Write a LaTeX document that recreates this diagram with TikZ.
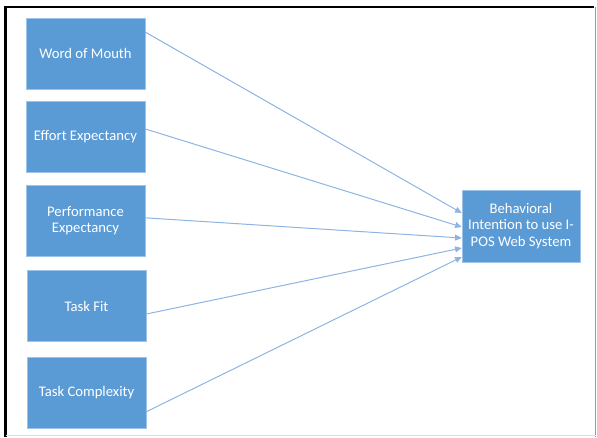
\documentclass[tikz,border=0pt]{standalone}
\usepackage{fontspec}
\setmainfont{Carlito}
\usetikzlibrary{arrows.meta}
\definecolor{boxblue}{HTML}{5B9BD5}
\definecolor{edgeblue}{HTML}{9DC3E6}
\definecolor{lineblue}{HTML}{8DB4E2}
\tikzset{
  srcbox/.style={rectangle, fill=boxblue, draw=edgeblue, line width=0.4pt, text=white,
    minimum width=89.5pt, minimum height=53.25pt, align=center, inner sep=2pt,
    font=\fontsize{11}{12.5}\selectfont},
  tgtbox/.style={srcbox, minimum width=88.5pt, minimum height=54pt},
  link/.style={draw=lineblue, line width=0.75pt, -{Triangle[length=5pt,width=4.5pt]}}
}
\begin{document}
\begin{tikzpicture}[x=0.75pt,y=-0.75pt]
\useasboundingbox (0,0) rectangle (597,437);
% frame
\draw[line width=2.2pt, black] (5.5,437) -- (5.5,7) -- (594,7);
\draw[line width=1.2pt, gray!80] (595.5,7) -- (595.5,437);
\draw[line width=0.8pt, gray!25] (5.5,435.5) -- (595.5,435.5);
% nodes
\node[srcbox] (wom) at (85.5,53.5) {Word of Mouth};
\node[srcbox] (ee) at (85.5,137) {Effort Expectancy};
\node[srcbox] (pe) at (85.5,220.5) {Performance\\Expectancy};
\node[srcbox] (tf) at (86.5,306) {Task Fit};
\node[srcbox] (tc) at (86.5,393) {Task Complexity};
\node[tgtbox] (bi) at (521,226) {Behavioral\\Intention to use I-\\POS Web System};
% connectors
\draw[link] ([yshift=16pt]wom.east) -- ([yshift=9.75pt]bi.west);
\draw[link] ([yshift=6pt]ee.east) -- ([yshift=-0.75pt]bi.west);
\draw[link] ([yshift=2pt]pe.east) -- ([yshift=-9pt]bi.west);
\draw[link] ([yshift=-6pt]tf.east) -- ([yshift=-16.5pt]bi.west);
\draw[link] ([yshift=-14pt]tc.east) -- ([yshift=-23.25pt]bi.west);
\end{tikzpicture}
\end{document}
